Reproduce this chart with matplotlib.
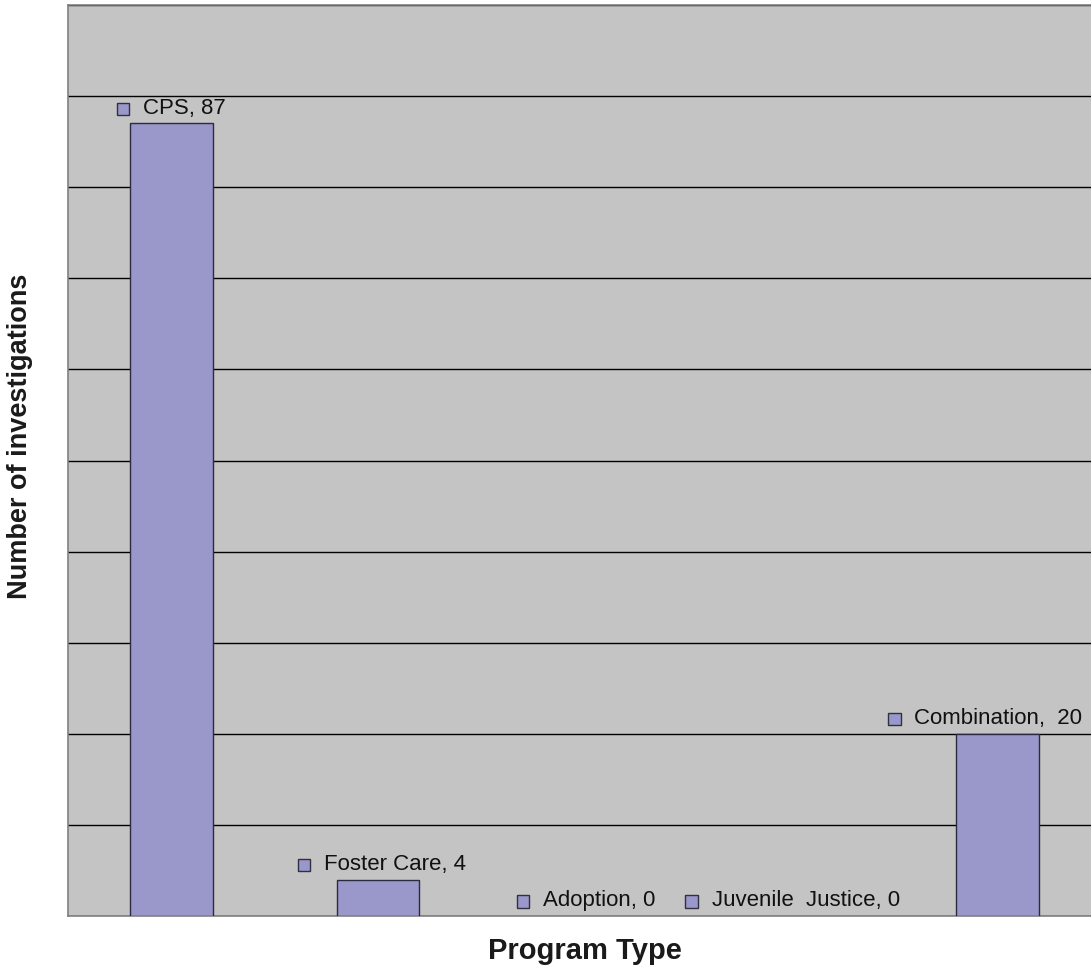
import matplotlib
matplotlib.use('Agg')
import matplotlib.pyplot as plt
from matplotlib.offsetbox import AnnotationBbox, DrawingArea, HPacker, TextArea
from matplotlib.patches import Rectangle

# Data
programs = ['CPS', 'Foster Care', 'Adoption', 'Juvenile Justice', 'Combination']
counts = [87, 4, 0, 0, 20]
labels = ['CPS, 87', 'Foster Care, 4', 'Adoption, 0', 'Juvenile  Justice, 0', 'Combination,  20']
label_shift = [0, 3, 1, 1, -9]

plt.rcParams['font.family'] = ['Liberation Sans', 'DejaVu Sans']

bar_color = '#9a97cb'
bg_color = '#c4c4c4'

fig = plt.figure(figsize=(10.91, 9.67), dpi=100)
ax = fig.add_axes([68/1091, 51/967, 1033/1091, 911/967])
ax.set_facecolor(bg_color)

x = list(range(len(programs)))
lws = [1 if c > 0 else 0 for c in counts]
ax.bar(x, counts, width=0.4, color=bar_color, edgecolor='#2a2a40', linewidth=lws, zorder=3)

ax.set_xlim(-0.5, 4.5)
ax.set_ylim(0, 100)
ax.set_yticks(range(0, 101, 10))
ax.set_xticks([])
ax.yaxis.grid(True, color='black', linewidth=1)
ax.set_axisbelow(True)
ax.tick_params(left=False, labelleft=False)
for s in ax.spines.values():
    s.set_color('#808080')
    s.set_linewidth(1.2)

# Data labels: small square + text above each bar
for xi, val, lab, dx in zip(x, counts, labels, label_shift):
    da = DrawingArea(10, 10, 0, 0)
    da.add_artist(Rectangle((0, 0), 9, 9, facecolor=bar_color, edgecolor='#303040', linewidth=1))
    ta = TextArea(lab, textprops=dict(fontsize=16, color='#111111'))
    box = HPacker(children=[da, ta], align='center', pad=0, sep=9)
    ab = AnnotationBbox(box, (xi, val), xybox=(dx, 11), xycoords='data',
                        boxcoords='offset points', box_alignment=(0.5, 0.5),
                        frameon=False, annotation_clip=False)
    ax.add_artist(ab)

fig.text(585/1091, 1 - 951/967, 'Program Type', ha='center', va='center',
         fontsize=21, fontweight='bold', color='#1a1a1a')
fig.text(20/1091, 1 - 436/967, 'Number of investigations', ha='center', va='center',
         rotation=90, fontsize=19.5, fontweight='bold', color='#1a1a1a')

fig.savefig('out.png', dpi=100)
